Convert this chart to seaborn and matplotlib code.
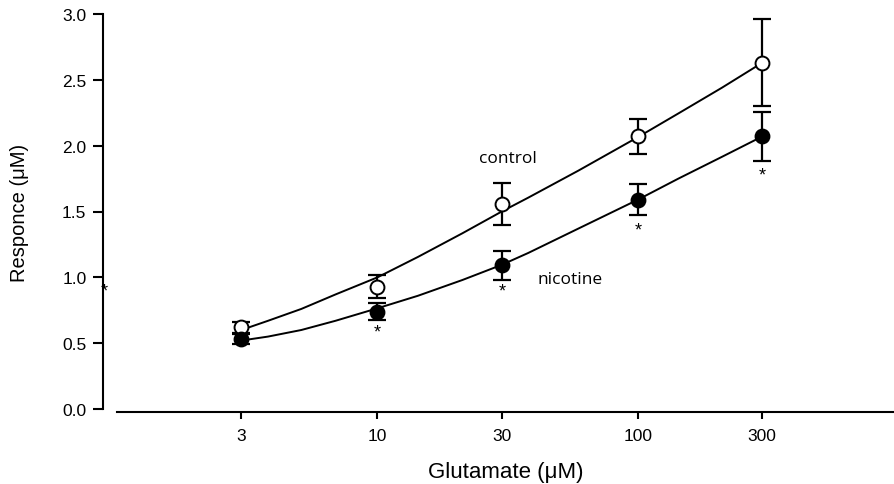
import matplotlib
matplotlib.use("Agg")
import matplotlib.pyplot as plt
import matplotlib.transforms as mtransforms
import seaborn as sns
import pandas as pd

# ---- data ----
glutamate = [3, 10, 30, 100, 300]
control_mean = [0.62, 0.93, 1.56, 2.07, 2.63]
control_sem = [0.04, 0.09, 0.16, 0.13, 0.33]
nicotine_mean = [0.53, 0.74, 1.09, 1.59, 2.07]
nicotine_sem = [0.04, 0.065, 0.11, 0.12, 0.185]

# fitted curves, read at several points along the drawn lines
fit_x = [3, 3.8, 5.1, 6.9, 10, 14.3, 21.2, 30, 37.9, 59, 100, 143, 210, 300]
control_fit = [0.60, 0.67, 0.76, 0.87, 1.00, 1.155, 1.335, 1.50, 1.605, 1.81, 2.065, 2.245, 2.44, 2.63]
nicotine_fit = [0.52, 0.55, 0.60, 0.67, 0.765, 0.86, 0.98, 1.095, 1.185, 1.37, 1.59, 1.75, 1.915, 2.07]

star_x = [10, 30, 100, 300]
star_y = [0.585, 0.90, 1.36, 1.78]

x_ticks = [3, 10, 30, 100, 300]
x_tick_labels = ["3", "10", "30", "100", "300"]
y_ticks = [0.0, 0.5, 1.0, 1.5, 2.0, 2.5, 3.0]
y_tick_labels = ["0.0", "0.5", "1.0", "1.5", "2.0", "2.5", "3.0"]

sns.set_style("ticks")
plt.rcParams["font.family"] = ["Liberation Sans", "DejaVu Sans"]
plt.rcParams["text.color"] = "black"
plt.rcParams["axes.labelcolor"] = "black"
plt.rcParams["xtick.color"] = "black"
plt.rcParams["ytick.color"] = "black"
plt.rcParams["axes.edgecolor"] = "black"

fig = plt.figure(figsize=(8.95, 4.85), dpi=100)
W, H = 895, 485
ax = fig.add_axes([117 / W, (H - 410) / H, (W - 117) / W, (410 - 15) / H])

fit_df = pd.DataFrame({"x": fit_x, "control": control_fit, "nicotine": nicotine_fit})
pts_df = pd.DataFrame({"x": glutamate, "control": control_mean, "nicotine": nicotine_mean})

sns.lineplot(data=fit_df, x="x", y="control", ax=ax, color="black", lw=1.4, zorder=2)
sns.lineplot(data=fit_df, x="x", y="nicotine", ax=ax, color="black", lw=1.4, zorder=2)

ax.errorbar(glutamate, control_mean, yerr=control_sem, fmt="none", ecolor="black",
            elinewidth=1.6, capsize=6.5, capthick=1.6, zorder=3)
ax.errorbar(glutamate, nicotine_mean, yerr=nicotine_sem, fmt="none", ecolor="black",
            elinewidth=1.6, capsize=6.5, capthick=1.6, zorder=3)

sns.scatterplot(data=pts_df, x="x", y="control", ax=ax, s=100, color="white",
                edgecolor="black", linewidth=1.4, zorder=4)
sns.scatterplot(data=pts_df, x="x", y="nicotine", ax=ax, s=100, color="black",
                edgecolor="black", linewidth=1.4, zorder=4)

ax.set_xscale("log")
ax.set_xlim(1, 970)
ax.set_ylim(0, 3.0)
ax.set_xticks(x_ticks)
ax.set_xticklabels(x_tick_labels)
ax.minorticks_off()
ax.set_yticks(y_ticks)
ax.set_yticklabels(y_tick_labels)

for s in ["top", "right"]:
    ax.spines[s].set_visible(False)
ax.spines["left"].set_position(("outward", 10))
ax.spines["bottom"].set_position(("outward", 2))
ax.spines["left"].set_linewidth(1.5)
ax.spines["bottom"].set_linewidth(1.5)
ax.tick_params(axis="both", direction="out", width=1.5, color="black",
               labelsize=12.5, labelcolor="black")
ax.tick_params(axis="y", length=7, pad=5)
ax.tick_params(axis="x", length=5, pad=7)

ax.set_xlabel("Glutamate (\u03bcM)", fontsize=16, labelpad=13)
ax.set_ylabel("Responce (\u03bcM)", fontsize=14.5, labelpad=24)

ann_font = ["Open Sans", "DejaVu Sans"]
ax.text(31.8, 1.91, "control", ha="center", va="center", fontsize=12.5, family=ann_font)
ax.text(55, 0.99, "nicotine", ha="center", va="center", fontsize=12.5, family=ann_font)

for sx, sy in zip(star_x, star_y):
    ax.text(sx, sy, "*", ha="center", va="center", fontsize=13)

trans = mtransforms.blended_transform_factory(fig.transFigure, ax.transData)
ax.text(104 / W, 0.90, "*", ha="center", va="center", fontsize=13,
        transform=trans, clip_on=False)

fig.savefig("out.png", dpi=100)
